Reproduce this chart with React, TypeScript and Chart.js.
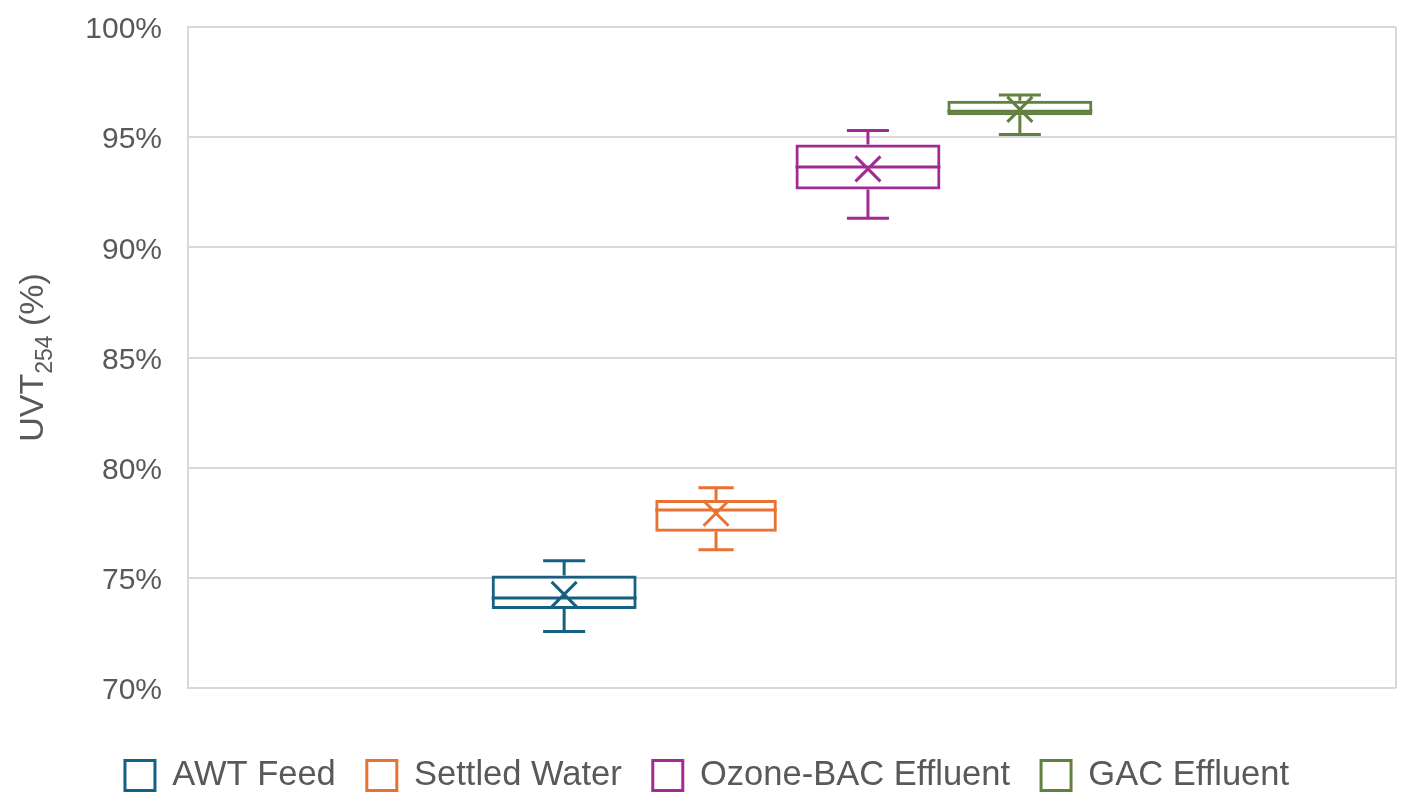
import React, { useEffect, useRef } from 'react';
import { Chart, registerables } from 'chart.js';

Chart.register(...registerables);

// box & whisker stats (UVT254, %)
const seriesNames = ['AWT Feed', 'Settled Water', 'Ozone-BAC Effluent', 'GAC Effluent'];
const seriesColors = ['#166083', '#E97132', '#A02B93', '#62803F'];
const minValues = [72.56, 76.27, 91.32, 95.12];
const q1Values = [73.59, 77.09, 92.62, 95.99];
const medianValues = [74.08, 78.08, 93.65, 96.18];
const q3Values = [75.11, 78.53, 94.67, 96.65];
const maxValues = [75.77, 79.09, 95.3, 96.91];
const meanValues = [74.25, 77.93, 93.56, 96.26];
const boxPercent = [0.954, 0.8, 0.954, 0.954];
const yTicks = [70, 75, 80, 85, 90, 95, 100];

const textColor = '#595959';
const gridColor = '#D9D9D9';
const fontFamily = "'Liberation Sans', Arial, sans-serif";

const whiskerPlugin = {
  id: 'whiskers',
  afterDatasetsDraw(chart: any) {
    const { ctx } = chart;
    const yScale = chart.scales.y;
    chart.data.datasets.forEach((ds: any, i: number) => {
      const bar = chart.getDatasetMeta(i).data[0];
      if (!bar) return;
      const cx = bar.x;
      const w = bar.width;
      const cap = w * 0.29;
      const yMin = yScale.getPixelForValue(minValues[i]);
      const yMax = yScale.getPixelForValue(maxValues[i]);
      const yQ1 = yScale.getPixelForValue(q1Values[i]);
      const yQ3 = yScale.getPixelForValue(q3Values[i]);
      const yMed = yScale.getPixelForValue(medianValues[i]);
      const yMean = yScale.getPixelForValue(meanValues[i]);
      ctx.save();
      ctx.strokeStyle = seriesColors[i];
      ctx.lineWidth = 3;
      ctx.lineCap = 'butt';
      ctx.beginPath();
      // whiskers
      ctx.moveTo(cx, yQ3);
      ctx.lineTo(cx, yMax);
      ctx.moveTo(cx - cap / 2, yMax);
      ctx.lineTo(cx + cap / 2, yMax);
      ctx.moveTo(cx, yQ1);
      ctx.lineTo(cx, yMin);
      ctx.moveTo(cx - cap / 2, yMin);
      ctx.lineTo(cx + cap / 2, yMin);
      // median
      ctx.moveTo(cx - w / 2, yMed);
      ctx.lineTo(cx + w / 2, yMed);
      // mean marker
      const m = 12.5;
      ctx.moveTo(cx - m, yMean - m);
      ctx.lineTo(cx + m, yMean + m);
      ctx.moveTo(cx - m, yMean + m);
      ctx.lineTo(cx + m, yMean - m);
      ctx.stroke();
      ctx.restore();
    });
  },
};

const axisTitlePlugin = {
  id: 'axisTitle',
  afterDraw(chart: any) {
    const { ctx, chartArea } = chart;
    const main = `34px ${fontFamily}`;
    const sub = `23px ${fontFamily}`;
    ctx.save();
    ctx.fillStyle = textColor;
    ctx.textBaseline = 'alphabetic';
    ctx.textAlign = 'left';
    ctx.font = main;
    const w1 = ctx.measureText('UVT').width;
    const w3 = ctx.measureText(' (%)').width;
    ctx.font = sub;
    const w2 = ctx.measureText('254').width;
    const total = w1 + w2 + w3;
    const cy = (chartArea.top + chartArea.bottom) / 2;
    ctx.translate(43, cy);
    ctx.rotate(-Math.PI / 2);
    let x = -total / 2;
    ctx.font = main;
    ctx.fillText('UVT', x, 0);
    x += w1;
    ctx.font = sub;
    ctx.fillText('254', x, 9);
    x += w2;
    ctx.font = main;
    ctx.fillText(' (%)', x, 0);
    ctx.restore();
  },
};

export default function App() {
  const canvasRef = useRef<HTMLCanvasElement>(null);

  useEffect(() => {
    if (!canvasRef.current) return;
    const chart = new Chart(canvasRef.current, {
      type: 'bar',
      data: {
        labels: [''],
        datasets: seriesNames.map((name, i) => ({
          label: name,
          data: [[q1Values[i], q3Values[i]]] as any,
          backgroundColor: 'rgba(255,255,255,0)',
          borderColor: seriesColors[i],
          borderWidth: 3,
          borderSkipped: false,
          barPercentage: boxPercent[i],
          categoryPercentage: 0.503,
        })),
      },
      options: {
        animation: false,
        responsive: true,
        maintainAspectRatio: false,
        layout: { padding: { top: 27, right: 18, bottom: 4.25, left: 18 } },
        plugins: {
          tooltip: { enabled: false },
          legend: {
            position: 'bottom',
            labels: {
              color: textColor,
              font: { family: fontFamily, size: 34.5 },
              boxWidth: 30,
              boxHeight: 30,
              padding: 31,
            },
          },
        },
        scales: {
          x: {
            grid: { display: true, color: gridColor, lineWidth: 2, drawTicks: false },
            border: { display: false },
            ticks: { display: false },
            afterFit: (scale: any) => {
              scale.height = 39.25;
            },
          },
          y: {
            min: 70,
            max: 100,
            grid: { color: gridColor, lineWidth: 2, drawTicks: false },
            border: { display: true, color: gridColor, width: 2 },
            afterBuildTicks: (scale: any) => {
              scale.ticks = yTicks.map((v) => ({ value: v }));
            },
            afterFit: (scale: any) => {
              scale.width = 170;
              scale.paddingTop = 0;
              scale.paddingBottom = 0;
            },
            ticks: {
              color: textColor,
              padding: 26,
              labelOffset: 3,
              font: { family: fontFamily, size: 30 },
              callback: (v: any) => `${v}%`,
            },
          },
        },
      },
      plugins: [whiskerPlugin, axisTitlePlugin],
    });
    return () => chart.destroy();
  }, []);

  return (
    <div style={{ position: 'fixed', left: 0, top: 0, width: '1414px', height: '807px', background: '#fff' }}>
      <canvas ref={canvasRef}></canvas>
    </div>
  );
}
